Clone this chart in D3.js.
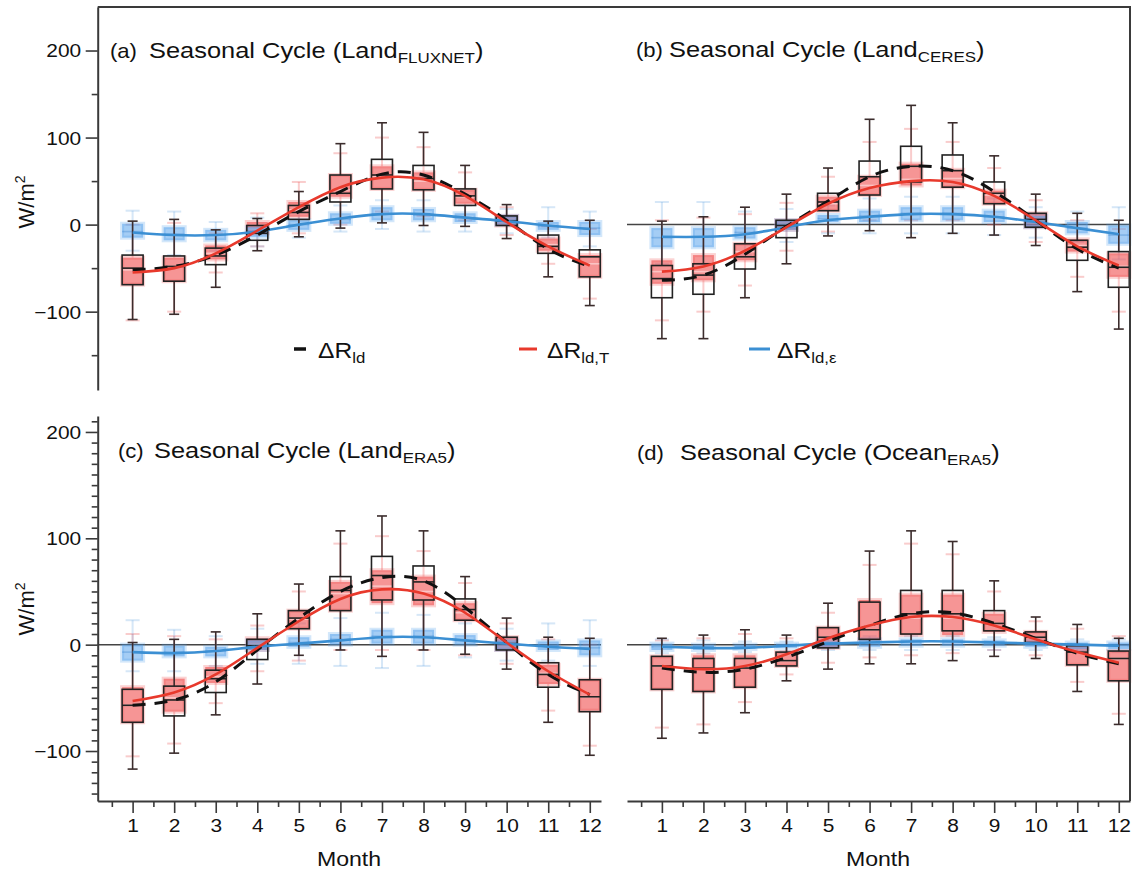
<!DOCTYPE html>
<html>
<head>
<meta charset="utf-8">
<script src="https://cdn.jsdelivr.net/npm/d3@7/dist/d3.min.js"></script>
<style>
  body { margin: 0; background: #fff; }
  svg text { font-family: "Liberation Sans", Arial, Helvetica, sans-serif; fill: #111; }
</style>
</head>
<body>
<div id="chart"></div>
<script>
// Months and tick values
var months = [1, 2, 3, 4, 5, 6, 7, 8, 9, 10, 11, 12];
var halfMonths = [0.5, 1.5, 2.5, 3.5, 4.5, 5.5, 6.5, 7.5, 8.5, 9.5, 10.5, 11.5];
var topMajorTicks = [-100, 0, 100, 200];
var topMinorTicks = [-150, -50, 50, 150];
var bottomMajorTicks = [-100, 0, 100, 200];
var bottomMinorTicks = d3.range(-140, 211, 10).filter(v => v % 100 !== 0);

// Box data per month: [low whisker, q1, median, q3, high whisker]
// (a) Land FLUXNET
var aBlack = [[-109,-69,-50,-35,4],[-103,-65,-48,-36,6],[-72,-46,-36,-27,-6],[-30,-18,-10,-1,7],[-14,6,14,22,38],[-4,26,36,57,93],
              [2,41,57,75,117],[-1,40,53,68,106],[-2,22,33,41,68],[-16,-1,4,10,23],[-60,-33,-25,-12,4],[-93,-60,-37,-29,5]];
var aRed   = [[-110,-69,-52,-38,0],[-100,-65,-48,-38,2],[-55,-40,-33,-24,-10],[-25,-10,-5,3,13],[-10,9,17,26,49],[0,32,40,57,82],
              [15,41,55,67,100],[10,40,50,60,89],[5,24,32,40,60],[-12,-1,4,10,20],[-45,-30,-23,-16,-2],[-85,-60,-45,-35,-5]];
var aBlue  = [[-30,-15,-8,1,16],[-35,-18,-11,-3,15],[-30,-18,-12,-6,3],[-25,-14,-8,-3,8],[-15,-6,0,5,15],[-8,1,6,13,22],
              [-5,5,12,20,28],[-8,5,11,18,28],[-8,3,8,13,22],[-10,0,5,10,18],[-15,-6,-2,3,20],[-25,-12,-4,3,15]];
var aFitBlack = [-52, -48, -35, -12, 15, 38, 58, 57, 35, 5, -28, -48];
var aFitRed   = [-55, -50, -33, -7, 20, 43, 54, 52, 33, 3, -25, -47];
var aFitBlue  = [-9, -12, -12, -8, 0, 7, 12, 12, 8, 4, -1, -5];

// (b) Land CERES
var bBlack = [[-131,-84,-62,-47,4],[-131,-80,-58,-45,9],[-84,-51,-37,-22,20],[-45,-15,-1,5,35],[-13,16,26,36,65],[-7,34,55,73,121],
              [-15,49,67,90,137],[-10,43,62,80,117],[-12,24,36,49,79],[-24,-3,6,13,35],[-77,-41,-26,-18,13],[-120,-72,-49,-31,5]];
var bRed   = [[-110,-68,-54,-41,5],[-100,-64,-54,-35,8],[-70,-41,-31,-22,12],[-30,-6,0,5,25],[-8,16,24,32,55],[5,34,45,55,95],
              [5,45,52,70,110],[5,43,53,63,95],[0,24,34,39,65],[-20,-3,5,13,28],[-60,-31,-24,-17,5],[-100,-60,-48,-33,-5]];
var bBlue  = [[-45,-26,-15,-4,26],[-45,-26,-14,-4,26],[-35,-16,-9,-3,15],[-20,-6,0,5,18],[-10,3,7,11,22],[-10,3,10,16,30],
              [-10,5,13,20,32],[-10,5,13,20,32],[-12,3,9,16,30],[-15,-3,3,10,20],[-20,-10,-4,3,15],[-40,-22,-12,-1,20]];
var bFitBlack = [-64, -58, -34, -2, 27, 55, 67, 62, 38, 5, -28, -50];
var bFitRed   = [-54, -48, -30, -3, 24, 42, 50, 49, 33, 5, -25, -47];
var bFitBlue  = [-14, -14, -11, -3, 5, 9, 12, 12, 9, 3, -4, -11];

// (c) Land ERA5
var cBlack = [[-117,-73,-57,-42,2],[-102,-67,-52,-39,5],[-66,-45,-32,-24,12],[-37,-14,-1,5,29],[-10,15,25,32,57],[-5,32,51,64,107],
              [-11,42,65,83,121],[-5,42,59,74,107],[-9,23,33,43,64],[-23,-5,1,7,25],[-73,-40,-28,-17,7],[-104,-63,-49,-33,6]];
var cRed   = [[-105,-73,-57,-40,10],[-93,-63,-50,-32,8],[-55,-36,-30,-21,5],[-25,-5,0,6,18],[-15,15,24,32,50],[-5,32,48,59,95],
              [-5,39,55,70,102],[-5,37,50,64,88],[-10,23,30,39,58],[-18,-5,1,7,20],[-62,-37,-27,-19,5],[-95,-62,-49,-33,0]];
var cBlue  = [[-25,-15,-7,0,23],[-25,-11,-7,-1,14],[-20,-11,-6,-2,8],[-18,-5,-1,4,15],[-18,-2,2,7,20],[-20,0,5,10,25],
              [-22,1,8,14,30],[-20,1,8,14,28],[-12,0,4,9,20],[-15,-5,1,4,15],[-15,-5,-1,3,20],[-20,-10,-3,4,23]];
var cFitBlack = [-57, -52, -35, -5, 25, 50, 63, 60, 35, 2, -28, -47];
var cFitRed   = [-53, -45, -28, -3, 22, 43, 52, 48, 30, 2, -25, -47];
var cFitBlue  = [-7, -8, -6, -2, 1, 4, 7, 7, 4, 1, -2, -4];

// (d) Ocean ERA5
var dBlack = [[-88,-42,-20,-11,6],[-83,-44,-22,-13,9],[-64,-40,-22,-13,14],[-34,-20,-15,-7,9],[-23,-3,7,16,39],[-18,5,14,40,88],
              [-18,10,29,51,107],[-15,13,29,51,97],[-11,13,20,32,60],[-13,2,7,12,26],[-44,-19,-7,-1,19],[-75,-34,-13,-6,6]];
var dRed   = [[-78,-42,-20,-11,4],[-75,-44,-22,-10,6],[-54,-40,-22,-10,10],[-28,-20,-15,-7,6],[-17,-3,7,16,30],[-12,5,14,42,75],
              [-10,9,25,47,95],[-8,9,25,47,85],[-5,12,20,29,50],[-10,2,7,12,22],[-35,-19,-7,-1,15],[-65,-34,-13,-6,8]];
var dBlue  = [[-8,-5,-2,1,5],[-8,-5,-2,0,4],[-7,-4,-2,0,3],[-6,-3,-1,1,3],[-5,-2,1,3,6],[-5,-2,2,5,8],
              [-5,-1,3,5,8],[-5,-1,3,5,8],[-5,-1,2,4,7],[-5,-2,1,3,6],[-6,-4,0,2,5],[-7,-4,-1,2,5]];
var dFitBlack = [-22, -26, -23, -12, 3, 18, 29, 30, 20, 6, -8, -18];
var dFitRed   = [-20, -23, -20, -9, 6, 18, 26, 26, 18, 5, -7, -17];
var dFitBlue  = [-2, -3, -3, -1, 1, 2, 3, 3, 2, 1, 0, -1];

// SVG area
var svgWidth = 1133;
var svgHeight = 871;
var svg = d3.select("#chart")
  .append("svg")
  .attr("width", svgWidth)
  .attr("height", svgHeight);

// Scales (both columns share the month domain, rows have their own W/m2 range)
var xLeft = d3.scaleLinear().domain([0.16, 12.27]).range([97.7, 601]);
var xRight = d3.scaleLinear().domain([0.16, 12.27]).range([627, 1130]);
var yTop = d3.scaleLinear().domain([-190, 250]).range([390, 7]);
var yBottom = d3.scaleLinear().domain([-147, 215]).range([801, 416]);

var axisColor = "#3a3a3a";
var stretch = 1.1;  // glyphs in the figure are a bit wider than Arial

// Text helper with optional sub/superscript pieces
function addText(x, y, parts, size, anchor, sx) {
  var t = svg.append("text")
    .attr("transform", `translate(${x},${y}) scale(${sx || stretch},1)`)
    .attr("text-anchor", anchor || "start")
    .style("font-size", size + "px");
  parts.forEach(function(p) {
    var s = t.append("tspan").text(p.text);
    if (p.sub) s.style("font-size", Math.round(size * 0.68) + "px").attr("dy", 5);
    if (p.back) s.attr("dy", -5);
  });
  return t;
}

var boxHalf = 10.5;
var styles = {
  black: { wStroke: "#3b2c2c", wWidth: 1.6, cap: 5, fill: "none", stroke: "#222", sWidth: 1.6, med: "#222" },
  red:   { wStroke: "rgba(235,95,95,0.32)", wWidth: 2, cap: 7, fill: "rgba(240,78,78,0.6)", stroke: "rgba(240,78,78,0.25)", sWidth: 4, med: "rgba(255,235,235,0.55)" },
  blue:  { wStroke: "rgba(90,160,225,0.25)", wWidth: 2, cap: 7, fill: "rgba(80,160,235,0.52)", stroke: "rgba(80,160,235,0.25)", sWidth: 4, med: "rgba(40,120,200,0.3)" }
};

function drawWhiskers(g, x, y, data, st) {
  var w = g.append("g").selectAll("g")
    .data(data)
    .enter()
    .append("g")
    .attr("transform", (d, i) => `translate(${x(months[i])},0)`);
  w.append("line").attr("y1", d => y(d[0])).attr("y2", d => y(d[1]))
    .attr("stroke", st.wStroke).attr("stroke-width", st.wWidth);
  w.append("line").attr("y1", d => y(d[3])).attr("y2", d => y(d[4]))
    .attr("stroke", st.wStroke).attr("stroke-width", st.wWidth);
  w.append("line").attr("x1", -st.cap).attr("x2", st.cap).attr("y1", d => y(d[0])).attr("y2", d => y(d[0]))
    .attr("stroke", st.wStroke).attr("stroke-width", st.wWidth);
  w.append("line").attr("x1", -st.cap).attr("x2", st.cap).attr("y1", d => y(d[4])).attr("y2", d => y(d[4]))
    .attr("stroke", st.wStroke).attr("stroke-width", st.wWidth);
}

function drawBoxes(g, x, y, data, st) {
  var box = g.append("g").selectAll("g")
    .data(data)
    .enter()
    .append("g")
    .attr("transform", (d, i) => `translate(${x(months[i])},0)`);
  box.append("rect")
    .attr("x", -boxHalf)
    .attr("width", boxHalf * 2)
    .attr("y", d => y(d[3]))
    .attr("height", d => y(d[1]) - y(d[3]))
    .attr("fill", st.fill)
    .attr("stroke", st.stroke)
    .attr("stroke-width", st.sWidth);
  box.append("line").attr("x1", -boxHalf).attr("x2", boxHalf)
    .attr("y1", d => y(d[2])).attr("y2", d => y(d[2]))
    .attr("stroke", st.med).attr("stroke-width", 1.6);
}

function drawCurve(g, x, y, values, color, width, dash) {
  var line = d3.line()
    .x((d, i) => x(months[i]))
    .y(d => y(d))
    .curve(d3.curveNatural);
  g.append("path")
    .datum(values)
    .attr("d", line)
    .attr("fill", "none")
    .attr("stroke", color)
    .attr("stroke-width", width)
    .attr("stroke-dasharray", dash || null);
}

function drawPanel(x, y, blk, red, blu, fitBlk, fitRed, fitBlu, zeroLine) {
  var g = svg.append("g");
  if (zeroLine) {
    g.append("line")
      .attr("x1", x.range()[0]).attr("x2", x.range()[1])
      .attr("y1", y(0)).attr("y2", y(0))
      .attr("stroke", "#444").attr("stroke-width", 1.5);
  }
  drawWhiskers(g, x, y, red, styles.red);
  drawWhiskers(g, x, y, blu, styles.blue);
  drawBoxes(g, x, y, red, styles.red);
  drawBoxes(g, x, y, blu, styles.blue);
  drawWhiskers(g, x, y, blk, styles.black);
  drawBoxes(g, x, y, blk, styles.black);
  drawCurve(g, x, y, fitBlu, "#3b8fd3", 2.6);
  drawCurve(g, x, y, fitBlk, "#111", 3, "13,9");
  drawCurve(g, x, y, fitRed, "#e8392c", 2.6);
}

drawPanel(xLeft, yTop, aBlack, aRed, aBlue, aFitBlack, aFitRed, aFitBlue, false);
drawPanel(xRight, yTop, bBlack, bRed, bBlue, bFitBlack, bFitRed, bFitBlue, true);
drawPanel(xLeft, yBottom, cBlack, cRed, cBlue, cFitBlack, cFitRed, cFitBlue, true);
drawPanel(xRight, yBottom, dBlack, dRed, dBlue, dFitBlack, dFitRed, dFitBlue, true);

// Axes
function styleAxis(sel) {
  sel.selectAll("path").attr("stroke", axisColor).attr("stroke-width", 2);
  sel.selectAll("line").attr("stroke", axisColor).attr("stroke-width", 1.6);
  sel.selectAll("text")
    .style("font-size", "19px")
    .style("font-family", "'Liberation Sans', Arial, sans-serif")
    .attr("fill", "#111");
}

function yAxis(y, major, minor) {
  var minorG = svg.append("g").attr("transform", "translate(97.7,0)")
    .call(d3.axisLeft(y).tickValues(minor).tickSize(6).tickSizeOuter(0).tickFormat(""));
  minorG.select(".domain").remove();
  styleAxis(minorG);
  var majorG = svg.append("g").attr("transform", "translate(97.7,0)")
    .call(d3.axisLeft(y).tickValues(major).tickSize(12).tickSizeOuter(0).tickPadding(3)
      .tickFormat(d => d < 0 ? "\u2212" + Math.abs(d) : d));
  styleAxis(majorG);
  majorG.selectAll(".tick text").attr("transform", `scale(${stretch},1)`).attr("dy", "0.34em");
}

function xAxis(x) {
  var minorG = svg.append("g").attr("transform", "translate(0,801)")
    .call(d3.axisBottom(x).tickValues(halfMonths).tickSize(6).tickSizeOuter(0).tickFormat(""));
  minorG.select(".domain").remove();
  styleAxis(minorG);
  var majorG = svg.append("g").attr("transform", "translate(0,801)")
    .call(d3.axisBottom(x).tickValues(months).tickSize(12).tickSizeOuter(0).tickPadding(6));
  styleAxis(majorG);
  majorG.selectAll(".tick text").attr("transform", `scale(${stretch},1)`);
}

yAxis(yTop, topMajorTicks, topMinorTicks);
yAxis(yBottom, bottomMajorTicks, bottomMinorTicks);
xAxis(xLeft);
xAxis(xRight);

// Frame: top edge over (a)-(b) and right edge down to (d)
svg.append("path")
  .attr("d", d3.line()([[97.7, 7], [1130, 7], [1130, 801]]))
  .attr("fill", "none")
  .attr("stroke", axisColor)
  .attr("stroke-width", 2);

// Panel titles
var tSize = 22.5, tStretch = 1.13;
var lSize = 21, lStretch = 1.05;
addText(110, 58, [{ text: "(a)" }], lSize, "start", lStretch).attr("fill", "#222");
addText(149, 58, [{ text: "Seasonal Cycle (Land" }, { text: "FLUXNET", sub: true }, { text: ")", back: true }], tSize, "start", tStretch);
addText(636, 57, [{ text: "(b)" }], lSize, "start", lStretch).attr("fill", "#222");
addText(669, 57, [{ text: "Seasonal Cycle (Land" }, { text: "CERES", sub: true }, { text: ")", back: true }], tSize, "start", tStretch);
addText(118, 458, [{ text: "(c)" }], lSize, "start", lStretch).attr("fill", "#222");
addText(154, 458, [{ text: "Seasonal Cycle (Land" }, { text: "ERA5", sub: true }, { text: ")", back: true }], tSize, "start", tStretch);
addText(637, 460, [{ text: "(d)" }], lSize, "start", lStretch).attr("fill", "#222");
addText(680, 460, [{ text: "Seasonal Cycle (Ocean" }, { text: "ERA5", sub: true }, { text: ")", back: true }], tSize, "start", tStretch);

// Legend
var legendY = 349;
svg.append("line").attr("x1", 294).attr("x2", 306).attr("y1", legendY).attr("y2", legendY)
  .attr("stroke", "#111").attr("stroke-width", 3.5);
addText(318, 358, [{ text: "\u0394R" }, { text: "ld", sub: true }], 22, "start", 1.12);
svg.append("line").attr("x1", 519).attr("x2", 537).attr("y1", legendY).attr("y2", legendY)
  .attr("stroke", "#e8392c").attr("stroke-width", 3);
addText(547, 358, [{ text: "\u0394R" }, { text: "ld,T", sub: true }], 22, "start", 1.12);
svg.append("line").attr("x1", 749).attr("x2", 770).attr("y1", legendY).attr("y2", legendY)
  .attr("stroke", "#3b8fd3").attr("stroke-width", 3);
addText(777, 358, [{ text: "\u0394R" }, { text: "ld,\u03b5", sub: true }], 22, "start", 1.12);

// Axis labels
function yLabel(cy) {
  var t = svg.append("text")
    .attr("transform", `translate(34,${cy}) rotate(-90)`)
    .attr("text-anchor", "middle")
    .style("font-size", "22px");
  t.append("tspan").text("W/m");
  t.append("tspan").text("2").style("font-size", "14px").attr("dy", -9);
}
yLabel(202);
yLabel(609);

addText(349, 866, [{ text: "Month" }], 21, "middle");
addText(878, 866, [{ text: "Month" }], 21, "middle");
</script>
</body>
</html>
